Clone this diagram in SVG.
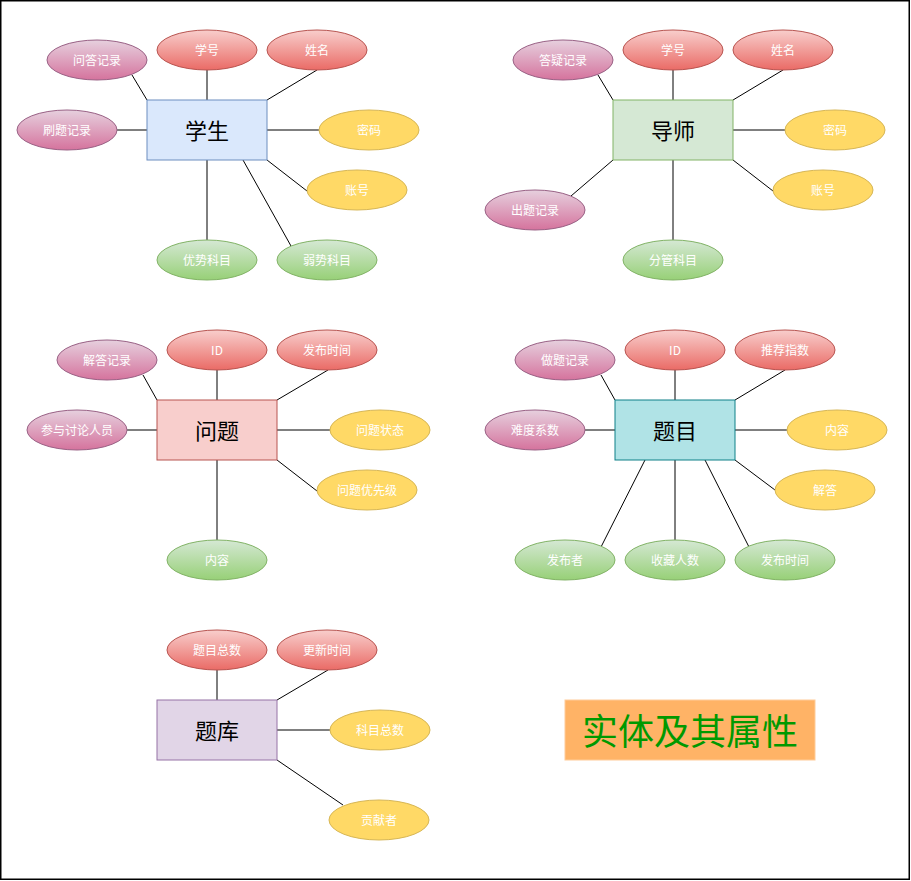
<svg xmlns="http://www.w3.org/2000/svg" width="911" height="881" viewBox="0 0 911 881">
<defs>
<linearGradient id="gRed" x1="0" y1="0" x2="0" y2="1"><stop offset="0" stop-color="#f8cecc"/><stop offset="1" stop-color="#ea6b66"/></linearGradient>
<linearGradient id="gPur" x1="0" y1="0" x2="0" y2="1"><stop offset="0" stop-color="#e6d0de"/><stop offset="1" stop-color="#d5739d"/></linearGradient>
<linearGradient id="gGrn" x1="0" y1="0" x2="0" y2="1"><stop offset="0" stop-color="#d5e8d4"/><stop offset="1" stop-color="#97d077"/></linearGradient>
</defs>
<style>
.red{fill:url(#gRed);stroke:#b85450;stroke-width:1}
.pur{fill:url(#gPur);stroke:#996185;stroke-width:1}
.grn{fill:url(#gGrn);stroke:#82b366;stroke-width:1}
.yel{fill:#ffd966;stroke:#d6b656;stroke-width:1}
.at{font-family:"Noto Sans CJK SC","Noto Sans",sans-serif;font-size:12px;fill:#ffffff;text-anchor:middle;dominant-baseline:central}
.en{font-family:"Noto Sans CJK SC","Noto Sans",sans-serif;font-size:22px;fill:#000000;text-anchor:middle;dominant-baseline:central}
.ln line{stroke:#000000;stroke-width:1}
text{transform:translateY(-1px)}
</style>
<rect x="0.75" y="0.75" width="908.5" height="878.5" fill="#ffffff" stroke="#000000" stroke-width="1.5"/>
<g id="connectors" class="ln">
<line x1="132" y1="75" x2="147" y2="100"/>
<line x1="207" y1="70" x2="207" y2="100"/>
<line x1="317" y1="70" x2="267" y2="100"/>
<line x1="117" y1="130" x2="147" y2="130"/>
<line x1="267" y1="130" x2="319" y2="130"/>
<line x1="267" y1="160" x2="307" y2="191"/>
<line x1="207" y1="160" x2="207" y2="240"/>
<line x1="243" y1="160" x2="291" y2="246"/>
<line x1="598" y1="75" x2="613" y2="100"/>
<line x1="673" y1="70" x2="673" y2="100"/>
<line x1="783" y1="70" x2="733" y2="100"/>
<line x1="733" y1="130" x2="785" y2="130"/>
<line x1="733" y1="160" x2="773" y2="191"/>
<line x1="613" y1="160" x2="571" y2="196"/>
<line x1="673" y1="160" x2="673" y2="240"/>
<line x1="143" y1="375" x2="157" y2="400"/>
<line x1="217" y1="370" x2="217" y2="400"/>
<line x1="328" y1="370" x2="277" y2="400"/>
<line x1="127" y1="430" x2="157" y2="430"/>
<line x1="277" y1="430" x2="330" y2="430"/>
<line x1="277" y1="460" x2="317" y2="491"/>
<line x1="217" y1="460" x2="217" y2="540"/>
<line x1="601" y1="375" x2="615" y2="400"/>
<line x1="675" y1="370" x2="675" y2="400"/>
<line x1="785" y1="370" x2="735" y2="400"/>
<line x1="585" y1="430" x2="615" y2="430"/>
<line x1="735" y1="430" x2="788" y2="430"/>
<line x1="735" y1="460" x2="775" y2="490"/>
<line x1="645" y1="460" x2="601" y2="547"/>
<line x1="675" y1="460" x2="675" y2="540"/>
<line x1="705" y1="460" x2="749" y2="547"/>
<line x1="217" y1="670" x2="217" y2="700"/>
<line x1="328" y1="670" x2="277" y2="700"/>
<line x1="277" y1="730" x2="330" y2="730"/>
<line x1="277" y1="760" x2="343" y2="805"/>
</g>
<g id="student">
<rect x="147" y="100" width="120" height="60" fill="#dae8fc" stroke="#6c8ebf"/>
<text class="en" x="207" y="130">学生</text>
</g>
<g id="s-xuehao"><ellipse class="red" cx="207" cy="50" rx="50" ry="20"/><text class="at" x="207" y="50">学号</text></g>
<g id="s-xingming"><ellipse class="red" cx="317" cy="50" rx="50" ry="20"/><text class="at" x="317" y="50">姓名</text></g>
<g id="s-wenda"><ellipse class="pur" cx="97" cy="60" rx="50" ry="20"/><text class="at" x="97" y="60">问答记录</text></g>
<g id="s-shuati"><ellipse class="pur" cx="67" cy="130" rx="50" ry="20"/><text class="at" x="67" y="130">刷题记录</text></g>
<g id="s-mima"><ellipse class="yel" cx="369" cy="130" rx="50" ry="20"/><text class="at" x="369" y="130">密码</text></g>
<g id="s-zhanghao"><ellipse class="yel" cx="357" cy="190" rx="50" ry="20"/><text class="at" x="357" y="190">账号</text></g>
<g id="s-youshi"><ellipse class="grn" cx="207" cy="260" rx="50" ry="20"/><text class="at" x="207" y="260">优势科目</text></g>
<g id="s-ruoshi"><ellipse class="grn" cx="327" cy="260" rx="50" ry="20"/><text class="at" x="327" y="260">弱势科目</text></g>
<g id="mentor">
<rect x="613" y="100" width="120" height="60" fill="#d5e8d4" stroke="#82b366"/>
<text class="en" x="673" y="130">导师</text>
</g>
<g id="m-xuehao"><ellipse class="red" cx="673" cy="50" rx="50" ry="20"/><text class="at" x="673" y="50">学号</text></g>
<g id="m-xingming"><ellipse class="red" cx="783" cy="50" rx="50" ry="20"/><text class="at" x="783" y="50">姓名</text></g>
<g id="m-dayi"><ellipse class="pur" cx="563" cy="60" rx="50" ry="20"/><text class="at" x="563" y="60">答疑记录</text></g>
<g id="m-mima"><ellipse class="yel" cx="835" cy="130" rx="50" ry="20"/><text class="at" x="835" y="130">密码</text></g>
<g id="m-zhanghao"><ellipse class="yel" cx="823" cy="190" rx="50" ry="20"/><text class="at" x="823" y="190">账号</text></g>
<g id="m-chuti"><ellipse class="pur" cx="535" cy="210" rx="50" ry="20"/><text class="at" x="535" y="210">出题记录</text></g>
<g id="m-fenguan"><ellipse class="grn" cx="673" cy="260" rx="50" ry="20"/><text class="at" x="673" y="260">分管科目</text></g>
<g id="question">
<rect x="157" y="400" width="120" height="60" fill="#f8cecc" stroke="#b85450"/>
<text class="en" x="217" y="430">问题</text>
</g>
<g id="q-id"><ellipse class="red" cx="217" cy="350" rx="50" ry="20"/><text class="at" x="217" y="350">ID</text></g>
<g id="q-time"><ellipse class="red" cx="327" cy="350" rx="50" ry="20"/><text class="at" x="327" y="350">发布时间</text></g>
<g id="q-jieda"><ellipse class="pur" cx="107" cy="360" rx="50" ry="20"/><text class="at" x="107" y="360">解答记录</text></g>
<g id="q-canyu"><ellipse class="pur" cx="77" cy="430" rx="50" ry="20"/><text class="at" x="77" y="430">参与讨论人员</text></g>
<g id="q-status"><ellipse class="yel" cx="380" cy="430" rx="50" ry="20"/><text class="at" x="380" y="430">问题状态</text></g>
<g id="q-priority"><ellipse class="yel" cx="367" cy="490" rx="50" ry="20"/><text class="at" x="367" y="490">问题优先级</text></g>
<g id="q-content"><ellipse class="grn" cx="217" cy="560" rx="50" ry="20"/><text class="at" x="217" y="560">内容</text></g>
<g id="topic">
<rect x="615" y="400" width="120" height="60" fill="#b0e3e6" stroke="#0e8088"/>
<text class="en" x="675" y="430">题目</text>
</g>
<g id="t-id"><ellipse class="red" cx="675" cy="350" rx="50" ry="20"/><text class="at" x="675" y="350">ID</text></g>
<g id="t-tuijian"><ellipse class="red" cx="785" cy="350" rx="50" ry="20"/><text class="at" x="785" y="350">推荐指数</text></g>
<g id="t-zuoti"><ellipse class="pur" cx="565" cy="360" rx="50" ry="20"/><text class="at" x="565" y="360">做题记录</text></g>
<g id="t-nandu"><ellipse class="pur" cx="535" cy="430" rx="50" ry="20"/><text class="at" x="535" y="430">难度系数</text></g>
<g id="t-content"><ellipse class="yel" cx="837" cy="430" rx="50" ry="20"/><text class="at" x="837" y="430">内容</text></g>
<g id="t-jieda"><ellipse class="yel" cx="825" cy="490" rx="50" ry="20"/><text class="at" x="825" y="490">解答</text></g>
<g id="t-fabuzhe"><ellipse class="grn" cx="565" cy="560" rx="50" ry="20"/><text class="at" x="565" y="560">发布者</text></g>
<g id="t-shoucang"><ellipse class="grn" cx="675" cy="560" rx="50" ry="20"/><text class="at" x="675" y="560">收藏人数</text></g>
<g id="t-time"><ellipse class="grn" cx="785" cy="560" rx="50" ry="20"/><text class="at" x="785" y="560">发布时间</text></g>
<g id="bank">
<rect x="157" y="700" width="120" height="60" fill="#e1d5e7" stroke="#9673a6"/>
<text class="en" x="217" y="730">题库</text>
</g>
<g id="b-total"><ellipse class="red" cx="217" cy="650" rx="50" ry="20"/><text class="at" x="217" y="650">题目总数</text></g>
<g id="b-update"><ellipse class="red" cx="327" cy="650" rx="50" ry="20"/><text class="at" x="327" y="650">更新时间</text></g>
<g id="b-subjects"><ellipse class="yel" cx="380" cy="730" rx="50" ry="20"/><text class="at" x="380" y="730">科目总数</text></g>
<g id="b-contrib"><ellipse class="yel" cx="379" cy="820" rx="50" ry="20"/><text class="at" x="379" y="820">贡献者</text></g>
<g id="title">
<rect x="565" y="700" width="250" height="60" fill="#ffb366" stroke="#ffcc99"/>
<text x="690" y="730" font-family="Noto Sans CJK SC,sans-serif" font-size="36" font-weight="normal" fill="#009900" text-anchor="middle" dominant-baseline="central">实体及其属性</text>
</g>
</svg>
